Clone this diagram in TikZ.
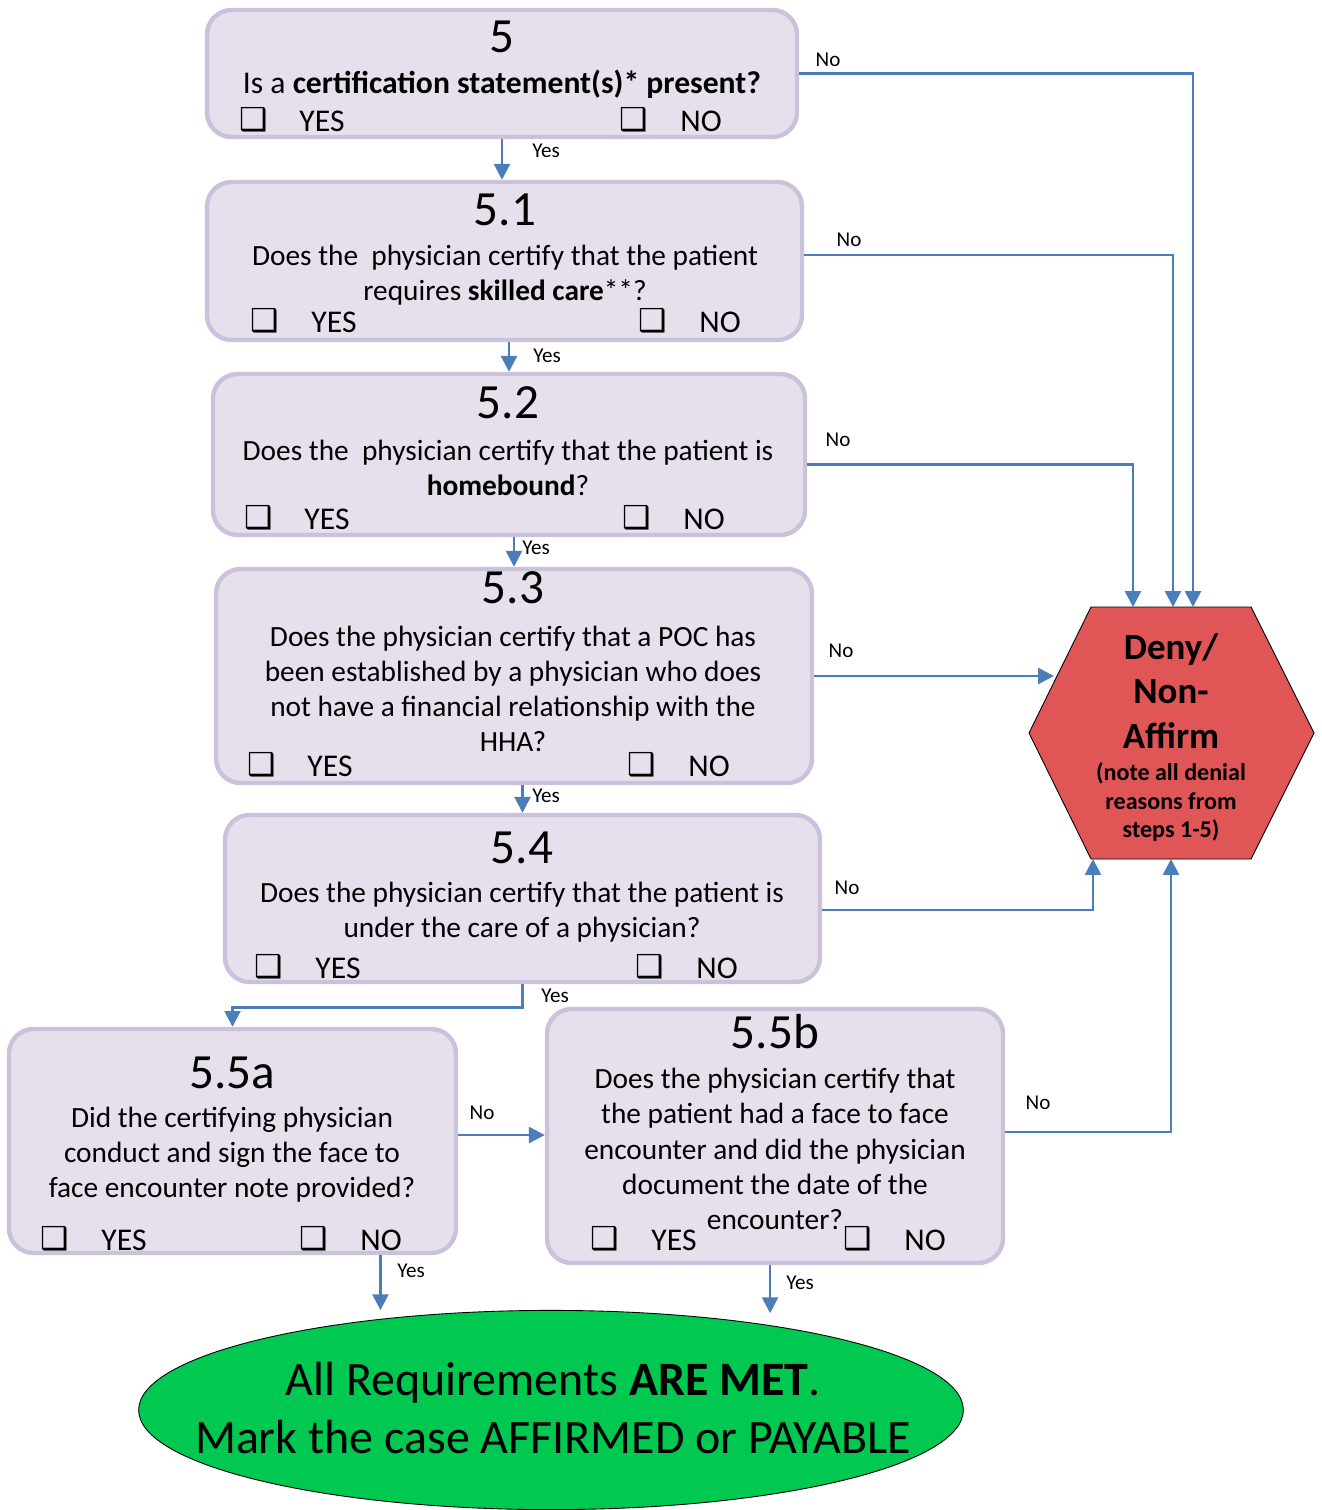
\documentclass[tikz,border=0pt]{standalone}
\usepackage{fontspec}
\setmainfont{Carlito}
\newfontfamily\djv{DejaVu Sans}
\usetikzlibrary{arrows.meta,fit,shapes.geometric}
\definecolor{boxfill}{HTML}{E5E0EC}
\definecolor{boxline}{HTML}{CCC1DA}
\definecolor{arrowc}{HTML}{4A7EBB}
\definecolor{denyc}{HTML}{E05555}
\definecolor{okc}{HTML}{00C850}
\newcommand{\cbx}{{\djv ❑}}
\begin{document}
\begin{tikzpicture}[x=0.02cm,y=-0.02cm,
  qbox/.style={draw=boxline, fill=boxfill, line width=2.5pt, rounded corners=14pt, inner sep=0pt},
  ttl/.style={font=\fontsize{28}{32}\selectfont, inner sep=0pt},
  body/.style={font=\fontsize{16.7}{20}\selectfont, align=center, inner sep=0pt},
  yn/.style={font=\fontsize{18}{21}\selectfont, inner sep=0pt},
  lbl/.style={font=\fontsize{12}{14}\selectfont, inner sep=0pt},
  arr/.style={draw=arrowc, line width=1.5pt, -{Triangle[length=9pt,width=9pt]}},
]
\useasboundingbox (0,0) rectangle (1321,1510);

% ---- boxes ----
\node[qbox, fit={(207,10) (797,137)}] (b5) {};
\node[qbox, fit={(207,182) (802,340)}] (b51) {};
\node[qbox, fit={(213,374) (805,535)}] (b52) {};
\node[qbox, fit={(216,569) (812,783)}] (b53) {};
\node[qbox, fit={(225,815) (820,982)}] (b54) {};
\node[qbox, fit={(9,1029) (456,1253)}] (b55a) {};
\node[qbox, fit={(547,1009) (1003,1263)}] (b55b) {};

% ---- box 5 ----
\node[ttl] (t5) at (502,37) {5};
\node[body, font=\fontsize{18}{21}\selectfont] (q5) at (502,84) {Is a \textbf{certification statement(s)* present?}};
\node[yn] (c5y) at (254,120) {\cbx}; \node[yn] (y5) at (322,121) {YES};
\node[yn] (c5n) at (634,120) {\cbx}; \node[yn] (n5) at (701,121) {NO};

% ---- box 5.1 ----
\node[ttl] (t51) at (505,210) {5.1};
\node[body] (q51) at (505,275) {Does the~ physician certify that the patient\\requires \textbf{skilled care}**?};
\node[yn] (c51y) at (265,321) {\cbx}; \node[yn] (y51) at (334,322) {YES};
\node[yn] (c51n) at (653,321) {\cbx}; \node[yn] (n51) at (720,322) {NO};

% ---- box 5.2 ----
\node[ttl] (t52) at (508,403) {5.2};
\node[body] (q52) at (508,468) {Does the~ physician certify that the patient is\\\textbf{homebound}?};
\node[yn] (c52y) at (259,518) {\cbx}; \node[yn] (y52) at (327,519) {YES};
\node[yn] (c52n) at (637,518) {\cbx}; \node[yn] (n52) at (704,519) {NO};

% ---- box 5.3 ----
\node[ttl] (t53) at (513,588) {5.3};
\node[body] (q53) at (513,689) {Does the physician certify that a POC has\\been established by a physician who does\\not have a financial relationship with the\\HHA?};
\node[yn] (c53y) at (262,765) {\cbx}; \node[yn] (y53) at (330,766) {YES};
\node[yn] (c53n) at (642,765) {\cbx}; \node[yn] (n53) at (709,766) {NO};

% ---- box 5.4 ----
\node[ttl] (t54) at (522,848) {5.4};
\node[body] (q54) at (522,912) {Does the physician certify that the patient is\\under the care of a physician?};
\node[yn] (c54y) at (269,967) {\cbx}; \node[yn] (y54) at (338,968) {YES};
\node[yn] (c54n) at (650,967) {\cbx}; \node[yn] (n54) at (717,968) {NO};

% ---- box 5.5a ----
\node[ttl] (t55a) at (232,1073) {5.5a};
\node[body] (q55a) at (232,1155) {Did the certifying physician\\conduct and sign the face to\\face encounter note provided?};
\node[yn] (c55ay) at (55,1239) {\cbx}; \node[yn] (y55a) at (124,1240) {YES};
\node[yn] (c55an) at (314,1239) {\cbx}; \node[yn] (n55a) at (381,1240) {NO};

% ---- box 5.5b ----
\node[ttl] (t55b) at (775,1032) {5.5b};
\node[body] (q55b) at (775,1149) {Does the physician certify that\\the patient had a face to face\\encounter and did the physician\\document the date of the\\encounter?};
\node[yn] (c55by) at (605,1239) {\cbx}; \node[yn] (y55b) at (674,1240) {YES};
\node[yn] (c55bn) at (858,1239) {\cbx}; \node[yn] (n55b) at (925,1240) {NO};

% ---- deny hexagon ----
\draw[fill=denyc, draw=black, line width=0.5pt] (1091,607) -- (1251,607) -- (1314,733) -- (1251,859) -- (1091,859) -- (1029,733) -- cycle;
\node[inner sep=0pt] (deny) at (1171,733) {};
\node[font=\fontsize{21}{25.5}\selectfont\bfseries, align=center, inner sep=0pt] (denyt) at (1171,691) {Deny/\\Non-\\Affirm};
\node[font=\fontsize{13.7}{16.4}\selectfont\bfseries, align=center, inner sep=0pt] (denys) at (1171,802) {(note all denial\\reasons from\\steps 1-5)};
\coordinate (hT1) at (1133,607);
\coordinate (hT2) at (1173,607);
\coordinate (hT3) at (1193,607);
\coordinate (hL) at (1054,677);
\coordinate (hB1) at (1093,859);
\coordinate (hB2) at (1171,859);

% ---- affirm ellipse ----
\node[ellipse, draw=black, line width=0.5pt, fill=okc, minimum width=469.4pt, minimum height=113.4pt, inner sep=0pt] (ok) at (551,1410) {};
\node[font=\fontsize{27.3}{32.5}\selectfont, align=center, inner sep=0pt] (okt) at (553,1408) {All Requirements \textbf{ARE MET}.\\Mark the case AFFIRMED or PAYABLE};

% ---- connectors ----
\draw[arr] (b5.south) -- (b5.south |- b51.north);
\draw[arr] (b52.north |- b51.south) -- (b52.north);
\draw[arr] (b53.north |- b52.south) -- (b53.north);
\draw[arr] (b54.north |- b53.south) -- (b54.north);
\draw[arr] (b54.south) -- ++(0,23) -| (b55a.north);
\draw[arr] ([yshift=3.4pt]b55a.east) -- ([yshift=3.4pt]b55a.east -| b55b.west);
\draw[arr] ([xshift=84.2pt]b55a.south) -- ++(0,55);
\draw[arr] ([xshift=-2.8pt]b55b.south) -- ++(0,48);

\draw[arr] (b5.east) -| (hT3);
\draw[arr] ([yshift=3.4pt]b51.east) -| (hT2);
\draw[arr] ([yshift=-5.7pt]b52.east) -| (hT1);
\draw[arr] (b53.east) -- (b53.east -| hL);
\draw[arr] ([yshift=-6.5pt]b54.east) -| (hB1);
\draw[arr] ([yshift=2.3pt]b55b.east) -| (hB2);

% ---- labels ----
\node[lbl] (l1) at (546,151) {Yes};
\node[lbl] (l2) at (828,60) {No};
\node[lbl] (l3) at (849,240) {No};
\node[lbl] (l4) at (547,356) {Yes};
\node[lbl] (l5) at (838,440) {No};
\node[lbl] (l6) at (536,548) {Yes};
\node[lbl] (l7) at (841,651) {No};
\node[lbl] (l8) at (546,796) {Yes};
\node[lbl] (l9) at (847,888) {No};
\node[lbl] (l10) at (555,996) {Yes};
\node[lbl] (l11) at (482,1113) {No};
\node[lbl] (l12) at (1038,1103) {No};
\node[lbl] (l13) at (411,1271) {Yes};
\node[lbl] (l14) at (800,1283) {Yes};
\end{tikzpicture}
\end{document}
